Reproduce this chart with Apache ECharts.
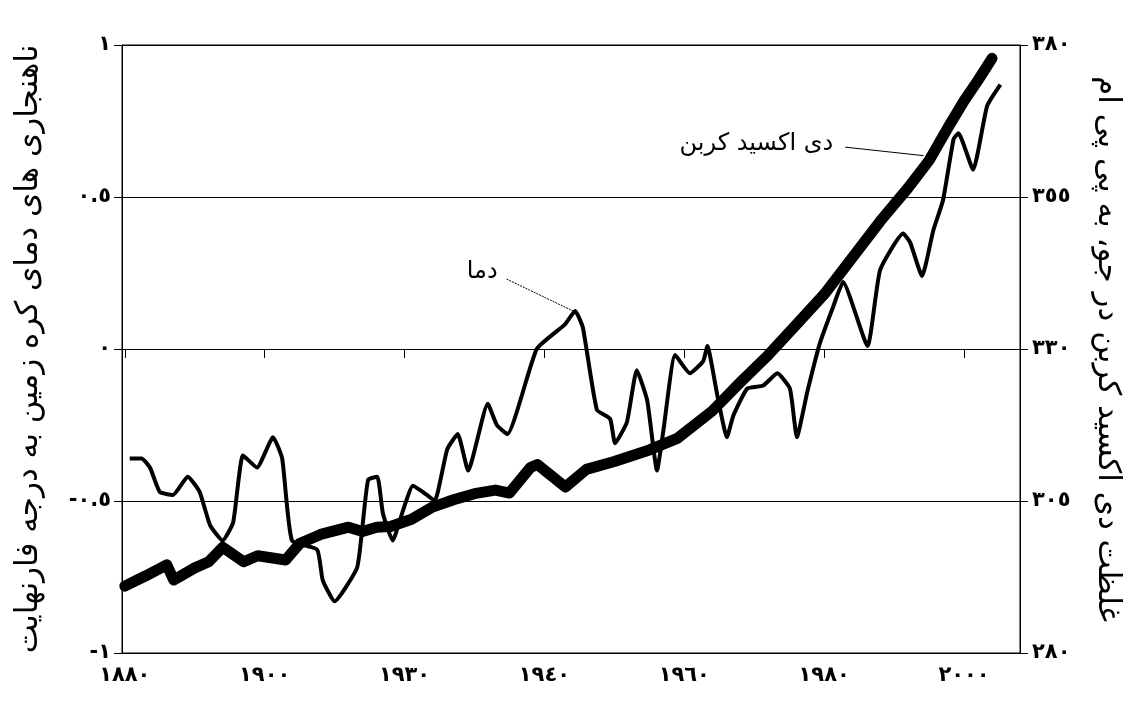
<!DOCTYPE html>
<html>
<head>
<meta charset="utf-8">
<style>
  html, body { margin: 0; padding: 0; background: #fff; }
  #chart { width: 1143px; height: 711px; }
</style>
<script src="https://cdn.jsdelivr.net/npm/echarts@6/dist/echarts.min.js"></script>
</head>
<body>
<div id="chart"></div>
<script>
// temperature anomaly (deg F)
var tempYears = [1880.7, 1882.4, 1883.6, 1885.0, 1886.9, 1889.0, 1890.7, 1892.2, 1894.0, 1895.5,
  1896.9, 1898.9, 1901.2, 1902.5, 1903.9, 1907.5, 1908.3, 1910.0, 1913.2, 1914.0,
  1914.8, 1916.1, 1916.9, 1918.3, 1919.8, 1921.2, 1923.2, 1924.3, 1926.1, 1927.6,
  1929.1, 1931.9, 1933.2, 1934.7, 1938.9, 1942.9, 1944.4, 1945.5, 1947.5, 1949.4,
  1950.1, 1951.8, 1953.2, 1954.7, 1956.1, 1957.0, 1958.7, 1960.8, 1962.7, 1963.3,
  1964.7, 1966.1, 1967.0, 1969.0, 1971.3, 1973.3, 1975.1, 1976.1, 1977.6, 1979.4,
  1981.3, 1982.7, 1986.2, 1988.0, 1991.3, 1992.3, 1994.0, 1995.6, 1997.0, 1998.5,
  1999.2, 2001.3, 2003.3, 2005.2]
var tempValues = [-0.36, -0.36, -0.39, -0.47, -0.48, -0.42, -0.47, -0.58, -0.63, -0.57,
  -0.35, -0.39, -0.29, -0.36, -0.63, -0.66, -0.76, -0.83, -0.72, -0.58,
  -0.43, -0.42, -0.54, -0.63, -0.53, -0.45, -0.48, -0.50, -0.33, -0.28,
  -0.40, -0.18, -0.25, -0.28, 0.00, 0.08, 0.125, 0.07, -0.20, -0.23,
  -0.31, -0.24, -0.07, -0.17, -0.40, -0.27, -0.02, -0.08, -0.04, 0.01,
  -0.15, -0.29, -0.22, -0.13, -0.12, -0.08, -0.13, -0.29, -0.14, 0.02,
  0.14, 0.22, 0.01, 0.26, 0.38, 0.35, 0.24, 0.39, 0.49, 0.69,
  0.71, 0.59, 0.80, 0.87]

// CO2 concentration (ppm)
var co2Years = [1880, 1883, 1886, 1887, 1890, 1892, 1894, 1897, 1899, 1903,
  1905, 1908, 1912, 1914, 1916, 1918, 1921, 1924, 1927, 1930,
  1933, 1935, 1938, 1939, 1943, 1946, 1950, 1955, 1959, 1964,
  1968, 1972, 1976, 1980, 1984, 1988, 1992, 1995, 1998, 2000,
  2002, 2004]
var co2Values = [291, 292.7, 294.5, 292.0, 294.0, 295.0, 297.4, 295.0, 296.0, 295.3,
  298.0, 299.5, 300.7, 300.0, 300.7, 300.8, 302.0, 304.0, 305.2, 306.2,
  306.8, 306.3, 310.5, 311.0, 307.3, 310.2, 311.5, 313.4, 315.3, 319.8,
  324.5, 329.0, 334.0, 339.0, 345.0, 351.0, 356.5, 361.0, 367.0, 370.8,
  374.2, 377.8]

var xTickValues = [1880, 1900, 1920, 1940, 1960, 1980, 2000]
var xTickLabels = ['١٨٨٠', '١٩٠٠', '١٩٣٠', '١٩٤٠', '١٩٦٠', '١٩٨٠', '٢٠٠٠']
var leftTickLabels = { '1': '١', '0.5': '٠.٥', '0': '٠', '-0.5': '-٠.٥', '-1': '-١' }
var rightTickValues = [280, 305, 330, 355, 380]
var rightTickLabels = ['٢٨٠', '٣٠٥', '٣٣٠', '٣٥٥', '٣٨٠']

var FONT = 'DejaVu Sans'

var chart = echarts.init(document.getElementById('chart'))
chart.setOption({
  animation: false,
  backgroundColor: '#fff',
  grid: {
    left: 122,
    right: 123,
    top: 45,
    bottom: 58,
    show: true,
    borderColor: '#000',
    borderWidth: 1
  },
  xAxis: {
    type: 'value',
    min: 1879.6,
    max: 2008,
    splitLine: { show: false },
    axisLine: { lineStyle: { color: '#000', width: 1 } },
    axisTick: {
      length: 9,
      customValues: xTickValues,
      lineStyle: { color: '#000' }
    },
    axisLabel: {
      customValues: xTickValues,
      margin: 12,
      color: '#000',
      fontFamily: FONT,
      fontSize: 21,
      fontWeight: 'bold',
      formatter: function(v) {
        return xTickLabels[xTickValues.indexOf(Math.round(v))]
      }
    }
  },
  yAxis: [{
    type: 'value',
    min: -1,
    max: 1,
    interval: 0.5,
    position: 'left',
    name: 'ناهنجاری های دمای کره زمین به درجه فارنهایت',
    nameLocation: 'middle',
    nameRotate: 90,
    nameGap: 78,
    nameTextStyle: { color: '#000', fontFamily: FONT, fontSize: 31 },
    axisLine: { show: true, lineStyle: { color: '#000' } },
    axisTick: { show: true, length: 8, lineStyle: { color: '#000' } },
    splitLine: { show: true, lineStyle: { color: '#000', width: 1 } },
    axisLabel: {
      margin: 11,
      color: '#000',
      fontFamily: FONT,
      fontSize: 21,
      fontWeight: 'bold',
      formatter: function(v) { return leftTickLabels[String(v)] }
    }
  }, {
    type: 'value',
    min: 280,
    max: 380,
    position: 'right',
    name: 'غلظت دی اکسید کربن در جو، به پی پی ام',
    nameLocation: 'middle',
    nameRotate: -90,
    nameGap: 72,
    nameTextStyle: { color: '#000', fontFamily: FONT, fontSize: 31 },
    axisLine: { show: true, lineStyle: { color: '#000' } },
    axisTick: { show: true, length: 8, customValues: rightTickValues, lineStyle: { color: '#000' } },
    splitLine: { show: false },
    axisLabel: {
      customValues: rightTickValues,
      margin: 12,
      color: '#000',
      fontFamily: FONT,
      fontSize: 21,
      fontWeight: 'bold',
      formatter: function(v) {
        return rightTickLabels[rightTickValues.indexOf(Math.round(v))]
      }
    }
  }],
  series: [{
    name: 'دی اکسید کربن',
    type: 'line',
    yAxisIndex: 1,
    data: co2Years.map(function(y, i) { return [y, co2Values[i]] }),
    showSymbol: false,
    lineStyle: { color: '#000', width: 11, cap: 'round', join: 'round' },
    z: 2,
    markLine: {
      silent: true,
      symbol: ['none', 'none'],
      label: { show: false },
      lineStyle: { color: '#000', width: 1, type: 'solid' },
      data: [[{ coord: [1983.0, 363.2] }, { coord: [1994.2, 361.8] }]]
    },
    markPoint: {
      silent: true,
      symbol: 'circle',
      symbolSize: 1,
      itemStyle: { color: 'rgba(0,0,0,0)' },
      label: {
        show: true,
        position: 'inside',
        color: '#000',
        fontFamily: FONT,
        fontSize: 24,
        formatter: 'دی اکسید کربن'
      },
      data: [{ coord: [1970.3, 363.8] }]
    }
  }, {
    name: 'دما',
    type: 'line',
    data: tempYears.map(function(y, i) { return [y, tempValues[i]] }),
    showSymbol: false,
    smooth: 0.15,
    lineStyle: { color: '#000', width: 4, join: 'round' },
    z: 3,
    markLine: {
      silent: true,
      symbol: ['none', 'none'],
      label: { show: false },
      lineStyle: { color: '#000', width: 1, type: [2, 1] },
      data: [[{ coord: [1934.6, 0.23] }, { coord: [1944.1, 0.125] }]]
    },
    markPoint: {
      silent: true,
      symbol: 'circle',
      symbolSize: 1,
      itemStyle: { color: 'rgba(0,0,0,0)' },
      label: {
        show: true,
        position: 'inside',
        color: '#000',
        fontFamily: FONT,
        fontSize: 24,
        formatter: 'دما'
      },
      data: [{ coord: [1931.1, 0.255] }]
    }
  }]
})
</script>
</body>
</html>
